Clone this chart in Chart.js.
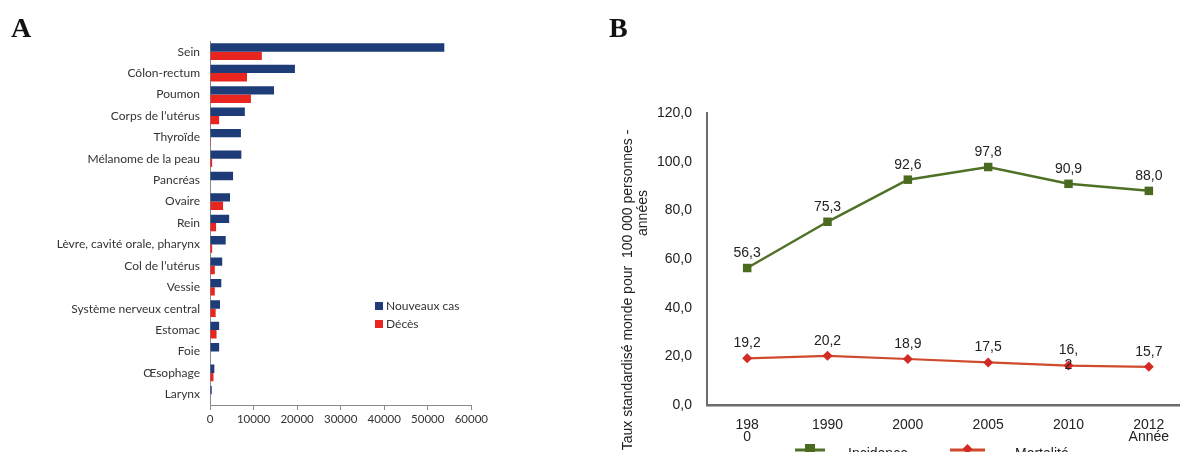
<!DOCTYPE html>
<html>
<head>
<meta charset="utf-8">
<script src="https://cdn.jsdelivr.net/npm/chart.js@4.4.1/dist/chart.umd.min.js"></script>
<style>
  html, body { margin: 0; padding: 0; background: #fff; width: 1180px; height: 452px; overflow: hidden; }
  #wrapA { position: absolute; left: 0; top: 0; width: 490px; height: 452px; }
  #wrapB { position: absolute; left: 600px; top: 0; width: 595px; height: 452px; }
  .panel { position: absolute; font-family: "Liberation Serif", serif; font-weight: bold; font-size: 28px; color: #111; }
</style>
</head>
<body>
<div id="wrapA"><canvas id="chartA"></canvas></div>
<div id="wrapB"><canvas id="chartB"></canvas></div>
<div class="panel" style="left:11px; top:12px;">A</div>
<div class="panel" style="left:609px; top:12px;">B</div>
<script>
// ---------- Data, panel A ----------
const cancerSites = ["Sein", "Côlon-rectum", "Poumon", "Corps de l’utérus", "Thyroïde", "Mélanome de la peau",
  "Pancréas", "Ovaire", "Rein", "Lèvre, cavité orale, pharynx", "Col de l’utérus", "Vessie",
  "Système nerveux central", "Estomac", "Foie", "Œsophage", "Larynx"];
const nouveauxCas = [53800, 19500, 14700, 8000, 7100, 7200, 5300, 4600, 4400, 3600, 2800, 2600, 2300, 2100, 2100, 1000, 400];
const deces       = [11900, 8500, 9400, 2100, 200, 500, 0, 3000, 1400, 500, 1100, 1100, 1300, 1500, 0, 800, 100];
const seriesNamesA = ["Nouveaux cas", "Décès"];
const xTicksA = [0, 10000, 20000, 30000, 40000, 50000, 60000];

// ---------- Data, panel B ----------
const years = [["198", "0"], "1990", "2000", "2005", "2010", ["2012", "Année"]];
const incidence = [56.3, 75.3, 92.6, 97.8, 90.9, 88.0];
const mortalite = [19.2, 20.2, 18.9, 17.5, 16.2, 15.7];
const incidenceLabels = ["56,3", "75,3", "92,6", "97,8", "90,9", "88,0"];
const mortaliteLabels = ["19,2", "20,2", "18,9", "17,5", ["16,", "2"], "15,7"];
const seriesNamesB = ["Incidence", "Mortalité"];
const yTitleB = ["Taux standardisé monde pour  100 000 personnes -", "années"];

const BLUE = "#1d3c78", RED = "#e8261f";
const GREEN = "#4f7126", ORANGE = "#cf4a2c", REDMARK = "#d32b24";

// ---------- Panel A ----------
const legendA = {
  id: "legendA",
  afterDraw(chart) {
    const ctx = chart.ctx;
    ctx.save();
    ctx.font = "12px Lato";
    ctx.textBaseline = "middle";
    ctx.textAlign = "left";
    chart.data.datasets.forEach((ds, i) => {
      const y = 306 + i * 18;
      ctx.fillStyle = ds.backgroundColor;
      ctx.fillRect(375, y - 4, 8, 8);
      ctx.fillStyle = "#333";
      ctx.fillText(ds.label, 386, y);
    });
    ctx.restore();
  }
};

new Chart(document.getElementById("chartA"), {
  type: "bar",
  data: {
    labels: cancerSites,
    datasets: [
      { label: seriesNamesA[0], data: nouveauxCas, backgroundColor: BLUE },
      { label: seriesNamesA[1], data: deces, backgroundColor: RED }
    ]
  },
  options: {
    indexAxis: "y",
    responsive: true,
    maintainAspectRatio: false,
    animation: false,
    layout: { padding: { top: 41, right: 18, left: 0, bottom: 0 } },
    plugins: { legend: { display: false }, tooltip: { enabled: false } },
    datasets: { bar: { categoryPercentage: 0.78, barPercentage: 1.0 } },
    scales: {
      x: {
        min: 0, max: 60000,
        afterBuildTicks: s => { s.ticks = xTicksA.map(v => ({ value: v })); },
        afterFit: s => { s.height = 47; },
        grid: { display: true, drawOnChartArea: false, drawTicks: true, tickLength: 5, color: "#8a8a8a" },
        border: { display: true, color: "#8a8a8a", width: 1 },
        ticks: { font: { family: "Lato", size: 11.5 }, color: "#333", padding: 2, maxRotation: 0,
                 callback: v => String(v) }
      },
      y: {
        afterFit: s => { s.width = 210; },
        grid: { display: false },
        border: { display: true, color: "#8a8a8a", width: 1 },
        ticks: { font: { family: "Lato", size: 12 }, color: "#333", padding: 2, autoSkip: false }
      }
    }
  },
  plugins: [legendA]
});

// ---------- Panel B ----------
const extrasB = {
  id: "extrasB",
  afterDatasetsDraw(chart) {
    const ctx = chart.ctx;
    ctx.save();
    ctx.font = "14px 'Liberation Sans'";
    ctx.fillStyle = "#222";
    ctx.textAlign = "center";
    ctx.textBaseline = "middle";
    const labelSets = [incidenceLabels, mortaliteLabels];
    chart.data.datasets.forEach((ds, di) => {
      const meta = chart.getDatasetMeta(di);
      meta.data.forEach((pt, i) => {
        const txt = labelSets[di][i];
        const lines = Array.isArray(txt) ? txt : [txt];
        lines.forEach((ln, k) => ctx.fillText(ln, pt.x, pt.y - 15 + k * 15));
      });
    });
    ctx.restore();
  },
  afterDraw(chart) {
    const ctx = chart.ctx;
    ctx.save();
    ctx.font = "14px 'Liberation Sans'";
    ctx.fillStyle = "#222";
    ctx.textBaseline = "middle";
    ctx.textAlign = "center";
    ctx.translate(28, 290);
    ctx.rotate(-Math.PI / 2);
    ctx.fillText(yTitleB[0], 0, 0);
    ctx.restore();
    ctx.save();
    ctx.font = "14px 'Liberation Sans'";
    ctx.fillStyle = "#222";
    ctx.textBaseline = "middle";
    ctx.textAlign = "center";
    ctx.translate(43, 213);
    ctx.rotate(-Math.PI / 2);
    ctx.fillText(yTitleB[1], 0, 0);
    ctx.restore();
    // Bottom legend (partly cut by the frame)
    ctx.save();
    const items = [
      { x0: 195, x1: 225, tx: 248, ds: chart.data.datasets[0] },
      { x0: 350, x1: 385, tx: 415, ds: chart.data.datasets[1] }
    ];
    const ly = 450;
    items.forEach((it, i) => {
      ctx.strokeStyle = it.ds.borderColor;
      ctx.lineWidth = 3;
      ctx.beginPath(); ctx.moveTo(it.x0, ly); ctx.lineTo(it.x1, ly); ctx.stroke();
      ctx.fillStyle = it.ds.pointBackgroundColor;
      const cx = (it.x0 + it.x1) / 2;
      if (i === 0) {
        ctx.fillRect(cx - 5, ly - 6, 10, 10);
      } else {
        ctx.beginPath();
        ctx.moveTo(cx, ly - 6); ctx.lineTo(cx + 5, ly - 1); ctx.lineTo(cx, ly + 4); ctx.lineTo(cx - 5, ly - 1);
        ctx.closePath(); ctx.fill();
      }
      ctx.font = "14px 'Liberation Sans'";
      ctx.fillStyle = "#222";
      ctx.textAlign = "left";
      ctx.textBaseline = "middle";
      ctx.fillText(it.ds.label, it.tx, ly + 4);
    });
    ctx.restore();
  }
};

new Chart(document.getElementById("chartB"), {
  type: "line",
  data: {
    labels: years,
    datasets: [
      { label: seriesNamesB[0], data: incidence, borderColor: GREEN, borderWidth: 2.5,
        pointStyle: "rect", pointRadius: 6, pointBackgroundColor: "#4a6b1f", pointBorderColor: "#4a6b1f",
        pointBorderWidth: 0, tension: 0, fill: false },
      { label: seriesNamesB[1], data: mortalite, borderColor: ORANGE, borderWidth: 2.2,
        pointStyle: "rectRot", pointRadius: 5, pointBackgroundColor: REDMARK, pointBorderColor: REDMARK,
        pointBorderWidth: 0, tension: 0, fill: false }
    ]
  },
  options: {
    responsive: true,
    maintainAspectRatio: false,
    animation: false,
    layout: { padding: { top: 113, right: 6, left: 0, bottom: 0 } },
    plugins: { legend: { display: false }, tooltip: { enabled: false } },
    scales: {
      x: {
        offset: true,
        afterFit: s => { s.height = 47; },
        grid: { display: false },
        border: { display: true, color: "#6b6b6b", width: 2.5 },
        ticks: { font: { family: "'Liberation Sans'", size: 14, lineHeight: 0.8 }, color: "#222", padding: 7, maxRotation: 0, autoSkip: false }
      },
      y: {
        min: 0, max: 120,
        ticks: { stepSize: 20, font: { family: "'Liberation Sans'", size: 14 }, color: "#222", padding: 7,
                 callback: v => v.toFixed(1).replace(".", ",") },
        afterFit: s => { s.width = 107; },
        grid: { display: false },
        border: { display: true, color: "#6b6b6b", width: 2 }
      }
    }
  },
  plugins: [extrasB]
});
</script>
</body>
</html>
